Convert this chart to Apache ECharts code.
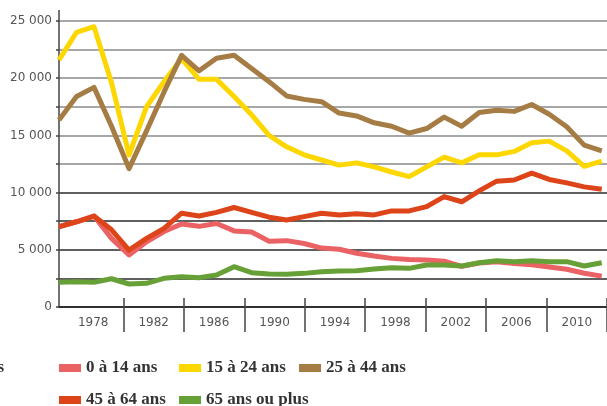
<!DOCTYPE html>
<html>
<head>
<meta charset="utf-8">
<script src="https://cdn.jsdelivr.net/npm/echarts@6/dist/echarts.min.js"></script>
<style>
  html, body { margin: 0; padding: 0; background: #fff; }
  #chart { width: 607px; height: 406px; }
</style>
</head>
<body>
<div id="chart"></div>
<script>
// tick labels on the time axis (one per 4-year band)
var yearLabels = ["1978", "1982", "1986", "1990", "1994", "1998", "2002", "2006", "2010"];

// series names
var names = ["0 à 14 ans", "15 à 24 ans", "25 à 44 ans", "45 à 64 ans", "65 ans ou plus"];

// values, one per point from left to right
var ans0_14 = [7000, 7450, 7950, 6000, 4550, 5700, 6600, 7250, 7050, 7300, 6650, 6550, 5750, 5800, 5550, 5150,
  5050, 4700, 4450, 4250, 4150, 4100, 4000, 3550, 3850, 3950, 3800, 3700, 3500, 3300, 2950, 2700];
var ans15_24 = [21600, 24000, 24500, 19600, 13300, 17500, 19700, 21700, 19900, 19900, 18400, 16800, 15000, 14000, 13300, 12850,
  12400, 12600, 12250, 11800, 11400, 12250, 13100, 12600, 13300, 13300, 13600, 14350, 14500, 13650, 12300, 12750];
var ans25_44 = [16350, 18400, 19200, 15800, 12100, 15400, 18800, 22000, 20650, 21750, 22000, 20850, 19700, 18450, 18150, 17950,
  16950, 16700, 16100, 15800, 15200, 15600, 16600, 15800, 17000, 17200, 17100, 17700, 16850, 15750, 14150, 13650];
var ans45_64 = [7020, 7450, 7950, 6750, 4980, 6000, 6880, 8200, 7950, 8270, 8700, 8270, 7850, 7600, 7900, 8200,
  8050, 8150, 8050, 8400, 8400, 8770, 9650, 9200, 10150, 11000, 11100, 11700, 11150, 10850, 10500, 10300];
var ans65plus = [2160, 2210, 2160, 2470, 2010, 2070, 2510, 2650, 2560, 2800, 3520, 3000, 2880, 2860, 2940, 3090,
  3150, 3170, 3320, 3440, 3380, 3670, 3670, 3580, 3870, 4050, 3960, 4050, 3960, 3960, 3580, 3870];

var colors = ["#eb6264", "#fed600", "#a67c45", "#dd4419", "#67a036"];
var allValues = [ans0_14, ans15_24, ans25_44, ans45_64, ans65plus];

var myChart = echarts.init(document.getElementById("chart"));

var legendFont = "'Liberation Serif', 'DejaVu Serif', serif";
var legendPos = [[59, 358], [179, 358], [299, 358], [59, 390], [179, 390]];

var series = allValues.map(function (vals, k) {
  return {
    name: names[k],
    type: "line",
    xAxisIndex: 0,
    yAxisIndex: 0,
    showSymbol: false,
    symbol: "none",
    data: vals.map(function (v, i) { return [i, v]; }),
    lineStyle: { color: colors[k], width: 5, join: "round" },
    itemStyle: { color: colors[k] },
    emphasis: { disabled: true },
    animation: false
  };
});

var legends = names.map(function (n, k) {
  return {
    data: [n],
    left: legendPos[k][0],
    top: legendPos[k][1],
    padding: 0,
    icon: "rect",
    itemWidth: 22,
    itemHeight: 8,
    selectedMode: false,
    textStyle: {
      fontFamily: legendFont,
      fontWeight: "bold",
      fontSize: 17,
      lineHeight: 20,
      color: "#333"
    }
  };
});

var option = {
  animation: false,
  grid: [
    { left: 59, right: 0, top: 21, bottom: 99 },
    { left: 63, width: 555, top: 21, bottom: 108 }
  ],
  legend: legends,
  xAxis: [
    {
      type: "value",
      gridIndex: 0,
      min: 0,
      max: 31.3,
      axisLine: { show: true, onZero: false, lineStyle: { color: "#222", width: 1.5 } },
      axisTick: { show: false },
      axisLabel: { show: false },
      splitLine: { show: false }
    },
    {
      type: "category",
      gridIndex: 1,
      data: yearLabels,
      boundaryGap: true,
      axisLine: { show: false },
      axisTick: {
        show: true,
        length: 34,
        interval: function (index) { return index > 0; },
        lineStyle: { color: "#444", width: 1.5 }
      },
      axisLabel: {
        margin: 19,
        fontFamily: "DejaVu Sans",
        fontSize: 12,
        color: "#555"
      },
      splitLine: { show: false }
    }
  ],
  yAxis: [
    {
      type: "value",
      gridIndex: 0,
      min: 0,
      max: 25000,
      interval: 2500,
      axisLine: { show: true, lineStyle: { color: "#444", width: 1.5 } },
      axisTick: { show: true, length: 3, lineStyle: { color: "#444", width: 1.5 } },
      axisLabel: {
        margin: 7,
        fontFamily: "DejaVu Sans",
        fontSize: 12,
        color: "#555",
        formatter: function (v) {
          if (v % 5000 !== 0) return "";
          return v === 0 ? "0" : String(v / 1000) + " 000";
        }
      },
      splitLine: {
        show: true,
        lineStyle: {
          width: 1.5,
          color: ["#2a2a2a", "#2a2a2a", "#2a2a2a", "#2a2a2a", "#2a2a2a",
            "#8a8a8a", "#8a8a8a", "#8a8a8a", "#8a8a8a", "#8a8a8a", "#8a8a8a"]
        }
      }
    },
    {
      type: "value",
      gridIndex: 1,
      show: false
    }
  ],
  graphic: [
    {
      type: "line",
      shape: { x1: 59, y1: 10, x2: 59, y2: 22 },
      style: { stroke: "#444", lineWidth: 1.5 }
    },
    {
      type: "text",
      x: 4,
      y: 368,
      style: {
        text: "Tranches d'âges",
        fontFamily: legendFont,
        fontWeight: "bold",
        fontSize: 17,
        fill: "#333",
        align: "right",
        verticalAlign: "middle"
      }
    }
  ],
  series: series
};

myChart.setOption(option);
</script>
</body>
</html>
